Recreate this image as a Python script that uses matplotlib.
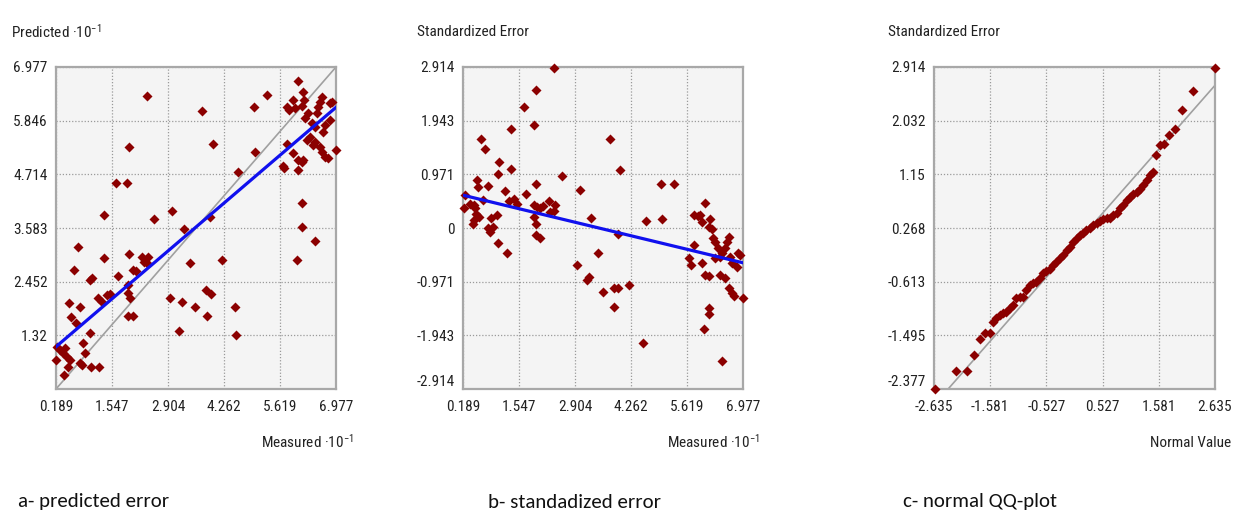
import matplotlib
matplotlib.use('Agg')
import matplotlib.pyplot as plt
from matplotlib import font_manager as fm

# ---------------- data ----------------
# Panel a: measured vs predicted (x10^-1)
pred_measured = [2.403, 3.737, 4.989, 5.296, 6.064, 6.169, 6.201, 6.145, 5.797, 5.846,
                 5.943, 5.983, 6.630, 6.589, 6.549, 6.508, 6.872, 6.832, 6.306, 6.226,
                 6.387, 6.468, 6.710, 6.670, 6.832, 6.977, 4.003, 1.967, 5.013, 5.797,
                 5.943, 6.064, 6.145, 6.185, 5.684, 5.716, 6.064, 4.609, 6.266, 6.347,
                 6.411, 6.468, 6.589, 6.630, 6.710, 6.791, 1.644, 1.902, 6.145, 1.353,
                 3.009, 2.573, 3.922, 3.300, 6.145, 6.468, 0.714, 6.023, 1.967, 1.353,
                 2.266, 2.322, 2.427, 2.387, 3.438, 4.205, 0.633, 2.064, 2.128, 1.700,
                 1.054, 1.013, 1.926, 1.943, 1.983, 2.953, 1.215, 1.296, 1.417, 1.498,
                 3.236, 3.817, 3.939, 0.512, 0.771, 0.553, 0.674, 3.559, 4.528, 3.842,
                 1.943, 2.064, 1.013, 3.179, 4.545, 0.852, 0.892, 0.221, 0.286, 0.407,
                 0.367, 0.189, 0.448, 0.528, 0.488, 0.771, 0.811, 1.029, 1.240, 0.391]
pred_predicted = [6.373, 6.050, 6.141, 6.387, 6.689, 6.457, 6.281, 6.155, 6.141, 6.071,
                  6.281, 6.106, 6.352, 6.246, 6.141, 6.000, 6.246, 6.211, 6.000, 5.895,
                  5.790, 5.720, 5.755, 5.614, 5.860, 5.227, 5.354, 5.298, 5.192, 5.354,
                  5.157, 5.017, 4.982, 5.017, 4.890, 4.841, 4.806, 4.771, 5.438, 5.509,
                  5.333, 5.403, 5.298, 5.192, 5.087, 5.052, 4.525, 4.525, 4.103, 3.857,
                  3.948, 3.773, 3.808, 3.562, 3.611, 3.316, 3.190, 2.908, 3.035, 2.944,
                  2.979, 2.873, 2.979, 2.838, 2.852, 2.908, 2.698, 2.698, 2.684, 2.571,
                  2.522, 2.487, 2.381, 2.206, 2.100, 2.114, 2.114, 2.030, 2.171, 2.192,
                  2.030, 2.276, 2.192, 1.995, 1.911, 1.700, 1.573, 1.911, 1.911, 1.735,
                  1.735, 1.735, 1.362, 1.412, 1.327, 1.166, 0.941, 1.081, 1.011, 1.046,
                  0.941, 0.800, 0.871, 0.800, 0.660, 0.730, 0.695, 0.660, 0.660, 0.484]
pred_fit = (0.7434, 0.940)          # slope, intercept of the blue regression line
pred_ticks = [0.189, 1.547, 2.904, 4.262, 5.619, 6.977]
pred_yticks = [0.189, 1.32, 2.452, 3.583, 4.714, 5.846, 6.977]

# Panel b: measured vs standardized error
std_measured = [2.403, 1.967, 1.660, 1.918, 1.361, 3.745, 0.633, 0.730, 1.070, 1.361,
                1.038, 3.987, 2.589, 0.528, 0.553, 0.787, 1.967, 3.017, 4.989, 5.312,
                1.215, 1.716, 0.246, 0.674, 1.296, 1.433, 1.498, 2.266, 2.427, 6.064,
                0.367, 0.448, 0.205, 0.488, 1.902, 1.983, 2.064, 2.128, 2.306, 2.387,
                0.512, 0.569, 0.464, 0.431, 1.013, 0.868, 1.918, 1.967, 0.795, 0.836,
                0.916, 3.300, 1.967, 2.064, 1.029, 1.256, 4.617, 5.013, 3.947, 5.797,
                5.886, 5.943, 5.983, 6.185, 6.145, 6.226, 5.797, 6.250, 6.306, 6.363,
                6.411, 6.306, 6.468, 6.549, 6.630, 6.589, 6.670, 6.710, 6.848, 6.912,
                6.832, 5.660, 5.716, 5.983, 6.064, 6.145, 6.411, 6.549, 6.630, 6.710,
                6.751, 6.977, 2.953, 3.195, 3.252, 3.454, 3.575, 3.842, 3.947, 4.205,
                3.858, 6.145, 6.145, 6.023, 4.545, 6.468]
std_error = [2.896, 2.504, 2.191, 1.871, 1.799, 1.618, 1.618, 1.437, 1.196, 1.076,
             0.973, 1.046, 0.943, 0.865, 0.744, 0.762, 0.805, 0.684, 0.805, 0.805,
             0.666, 0.624, 0.594, 0.515, 0.491, 0.521, 0.431, 0.485, 0.413, 0.455,
             0.443, 0.413, 0.371, 0.353, 0.413, 0.383, 0.371, 0.395, 0.292, 0.310,
             0.262, 0.202, 0.142, 0.069, 0.232, 0.190, 0.202, 0.069, -0.009, -0.081,
             0.021, 0.190, -0.130, -0.190, -0.268, -0.461, 0.130, 0.160, -0.100, 0.232,
             0.214, 0.232, 0.111, 0.154, 0.021, -0.027, -0.310, -0.190, -0.250, -0.371,
             -0.521, -0.551, -0.461, -0.371, -0.160, -0.250, -0.521, -0.642, -0.461, -0.491,
             -0.702, -0.551, -0.672, -0.642, -0.853, -0.871, -0.853, -0.913, -1.094, -1.184,
             -1.233, -1.263, -0.672, -0.943, -0.883, -0.449, -1.154, -1.094, -1.094, -1.034,
             -1.437, -1.456, -1.558, -1.835, -2.088, -2.402]
std_fit = (-0.1803, 0.628)
std_yticks = [-2.914, -1.943, -0.971, 0, 0.971, 1.943, 2.914]
std_yticklabels = ['-2.914', '-1.943', '-0.971', '0', '0.971', '1.943', '2.914']

# Panel c: normal QQ plot
qq_normal = [-2.622, -2.228, -2.022, -1.884, -1.778, -1.684, -1.590,
             -1.527, -1.465, -1.402, -1.339, -1.277, -1.214, -1.152, -1.089, -1.026, -0.964,
             -0.901, -0.839, -0.776, -0.714, -0.651, -0.588, -0.526, -0.463, -0.401, -0.338,
             -0.275, -0.213, -0.150, -0.088, -0.025, 0.038, 0.100, 0.163, 0.225, 0.288,
             0.351, 0.413, 0.476, 0.538, 0.601, 0.664, 0.726, 0.789, 0.851, 0.914,
             0.977, 1.039, 1.102, 1.164, 1.227, 1.289, 1.352, 1.415, 1.465,
             1.527, 1.602, 1.684, 1.778, 1.884, 2.022, 2.228, 2.635]
qq_std_error = [-2.377, -2.077, -2.077, -1.819, -1.562, -1.453, -1.453,
                -1.272, -1.217, -1.163, -1.135, -1.108, -1.053, -0.998, -0.889, -0.862, -0.862,
                -0.752, -0.670, -0.643, -0.616, -0.561, -0.479, -0.435, -0.397, -0.342, -0.287,
                -0.232, -0.177, -0.095, -0.040, 0.042, 0.097, 0.151, 0.179, 0.233, 0.261,
                0.316, 0.343, 0.387, 0.409, 0.425, 0.441, 0.480, 0.507, 0.589, 0.644,
                0.726, 0.780, 0.835, 0.862, 0.917, 0.971, 1.053, 1.136, 1.190,
                1.464, 1.628, 1.645, 1.803, 1.902, 2.203, 2.520, 2.898]
qq_ref = (0.997, -0.014)
qq_xticks = [-2.635, -1.581, -0.527, 0.527, 1.581, 2.635]
qq_yticks = [-2.377, -1.495, -0.613, 0.268, 1.15, 2.032, 2.914]
qq_yticklabels = ['-2.377', '-1.495', '-0.613', '0.268', '1.15', '2.032', '2.914']

captions = ['a- predicted error', 'b- standadized error', 'c- normal QQ-plot']

# ---------------- fonts ----------------
avail = {f.name for f in fm.fontManager.ttflist}
FONT = 'DejaVu Sans'
for cand in ['Liberation Sans Narrow', 'Roboto Condensed', 'PT Sans Narrow', 'Archivo Narrow', 'Liberation Sans']:
    if cand in avail:
        FONT = cand
        break
CAPFONT = 'DejaVu Sans'
for cand in ['Carlito', 'Lato', 'Open Sans']:
    if cand in avail:
        CAPFONT = cand
        break

plt.rcParams['font.family'] = [FONT, 'DejaVu Sans']
plt.rcParams['mathtext.fontset'] = 'custom'
plt.rcParams['mathtext.rm'] = FONT
plt.rcParams['mathtext.it'] = FONT
plt.rcParams['mathtext.default'] = 'regular'

TXT = '#222222'
PT = '#8b0000'
BG = '#f4f4f4'
EDGE = '#a8a8a8'
GRID = '#9a9a9a'
FS = 11

fig = plt.figure(figsize=(12.33, 5.24), dpi=100)
W, H = 1233, 524

def make_ax(left_px, right_px):
    return fig.add_axes([left_px / W, 1 - 389 / H, (right_px - left_px) / W, (389 - 67) / H])

def style(ax, xt, xtl, yt, ytl, show_bottom):
    ax.set_facecolor(BG)
    ax.set_xlim(xt[0], xt[-1])
    ax.set_ylim(yt[0], yt[-1])
    ax.set_xticks(xt)
    ax.set_xticklabels(xtl)
    ax.set_yticks(yt)
    if show_bottom:
        ax.set_yticklabels(ytl)
        ax.get_yticklabels()[0].set_verticalalignment('bottom')
    else:
        ax.set_yticklabels([''] + list(ytl[1:]))
    ax.tick_params(length=0, labelsize=FS, colors=TXT, pad=6)
    ax.tick_params(axis='x', pad=8)
    ax.grid(True, ls=(0, (1, 1.5)), color=GRID, lw=0.9)
    ax.set_axisbelow(True)
    for s in ax.spines.values():
        s.set_color(EDGE)
        s.set_linewidth(1.6)

ms = 26

# Panel a
axa = make_ax(56, 336)
style(axa, pred_ticks, [f'{v:g}' for v in pred_ticks], pred_yticks,
      [f'{v:g}' for v in pred_yticks], False)
axa.plot([pred_ticks[0], pred_ticks[-1]], [pred_ticks[0], pred_ticks[-1]], color='#a0a0a0', lw=1.2, zorder=2)
axa.scatter(pred_measured, pred_predicted, s=ms, marker='D', color=PT, lw=0, zorder=3, clip_on=False)
xs = [pred_ticks[0], pred_ticks[-1]]
axa.plot(xs, [pred_fit[0] * x + pred_fit[1] for x in xs], color='#1010ee', lw=2.3, zorder=4)

# Panel b
axb = make_ax(463, 743)
style(axb, pred_ticks, [f'{v:g}' for v in pred_ticks], std_yticks, std_yticklabels, True)
axb.scatter(std_measured, std_error, s=ms, marker='D', color=PT, lw=0, zorder=3, clip_on=False)
axb.plot(xs, [std_fit[0] * x + std_fit[1] for x in xs], color='#1010ee', lw=2.3, zorder=4)

# Panel c
axc = make_ax(934, 1215)
style(axc, qq_xticks, [f'{v:g}' for v in qq_xticks], qq_yticks, qq_yticklabels, True)
qx = [qq_xticks[0], qq_xticks[-1]]
axc.plot(qx, [qq_ref[0] * x + qq_ref[1] for x in qx], color='#a0a0a0', lw=1.2, zorder=2)
axc.scatter(qq_normal, qq_std_error, s=ms, marker='D', color=PT, lw=0, zorder=3, clip_on=False)

# Titles and axis labels
fig.text(11 / W, 1 - 32 / H, 'Predicted ·10$^{-1}$', fontsize=FS, color=TXT, va='center', ha='left')
fig.text(417 / W, 1 - 32 / H, 'Standardized Error', fontsize=FS, color=TXT, va='center', ha='left')
fig.text(888 / W, 1 - 32 / H, 'Standardized Error', fontsize=FS, color=TXT, va='center', ha='left')
fig.text(354 / W, 1 - 442 / H, 'Measured ·10$^{-1}$', fontsize=FS, color=TXT, va='center', ha='right')
fig.text(760 / W, 1 - 442 / H, 'Measured ·10$^{-1}$', fontsize=FS, color=TXT, va='center', ha='right')
fig.text(1231 / W, 1 - 443 / H, 'Normal Value', fontsize=FS, color=TXT, va='center', ha='right')

# Captions
for xpx, cap in zip([18, 488, 903], captions):
    fig.text(xpx / W, 1 - 502 / H, cap, fontsize=15, color='#111111', va='center', ha='left',
             family=[CAPFONT, 'DejaVu Sans'])

fig.savefig('out.png', dpi=100, facecolor='white')
